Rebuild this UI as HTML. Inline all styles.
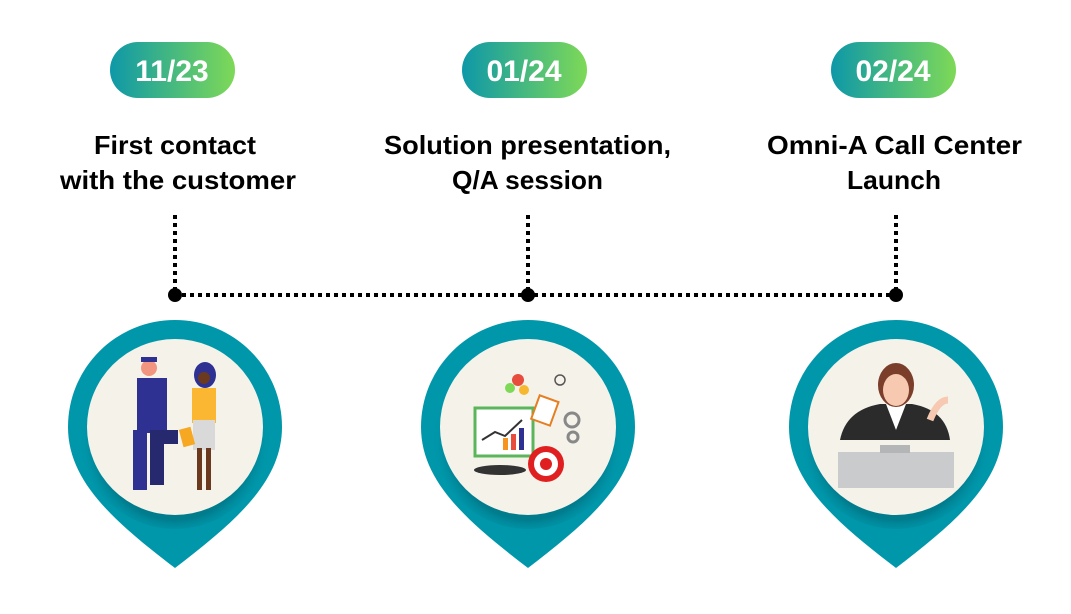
<!DOCTYPE html>
<html><head><meta charset="utf-8"><style>
html,body{margin:0;padding:0;background:#fff;}
body{width:1071px;height:609px;overflow:hidden;font-family:"Liberation Sans",sans-serif;}
</style></head><body>
<svg width="1071" height="609" viewBox="0 0 1071 609" xmlns="http://www.w3.org/2000/svg">
<defs>
<linearGradient id="g" x1="0" x2="1" y1="0" y2="0"><stop offset="0" stop-color="#0e98a8"/><stop offset="1" stop-color="#7ed957"/></linearGradient>
<radialGradient id="sh" cx="0.5" cy="0.55" r="0.5"><stop offset="0.8" stop-color="#00606e" stop-opacity="0.5"/><stop offset="1" stop-color="#0097ab" stop-opacity="0"/></radialGradient>
<g id="pin">
<path d="M-107,0 A107,107 0 1,1 107,0 C107,55 60,95 0,141 C-60,95 -107,55 -107,0 Z" fill="#0097ab"/>
<circle cx="0" cy="6" r="96" fill="url(#sh)"/>
<circle cx="0" cy="0" r="88" fill="#f5f2ea"/>
</g>
</defs>
<rect x="110" y="42" width="125" height="56" rx="28" fill="url(#g)"/>
<rect x="462" y="42" width="125" height="56" rx="28" fill="url(#g)"/>
<rect x="831" y="42" width="125" height="56" rx="28" fill="url(#g)"/>
<g font-weight="bold" fill="#fff" font-size="30" text-anchor="middle">
<text x="172" y="81">11/23</text><text x="524" y="81">01/24</text><text x="893" y="81">02/24</text>
</g>
<g font-weight="bold" fill="#000" font-size="26">
<text x="94" y="154" textLength="162" lengthAdjust="spacingAndGlyphs">First contact</text>
<text x="60" y="189" textLength="236" lengthAdjust="spacingAndGlyphs">with the customer</text>
<text x="384" y="154" textLength="287" lengthAdjust="spacingAndGlyphs">Solution presentation,</text>
<text x="452" y="189" textLength="151" lengthAdjust="spacingAndGlyphs">Q/A session</text>
<text x="767" y="154" textLength="255" lengthAdjust="spacingAndGlyphs">Omni-A Call Center</text>
<text x="847" y="189" textLength="94" lengthAdjust="spacingAndGlyphs">Launch</text>
</g>
<g stroke="#000" stroke-width="4" stroke-dasharray="4,4" fill="none">
<line x1="175" y1="215" x2="175" y2="290"/><line x1="528" y1="215" x2="528" y2="290"/><line x1="896" y1="215" x2="896" y2="290"/>
<line x1="182" y1="295" x2="890" y2="295"/>
</g>
<g fill="#000"><circle cx="175" cy="295" r="7"/><circle cx="528" cy="295" r="7"/><circle cx="896" cy="295" r="7"/></g>
<use href="#pin" x="175" y="427"/>
<use href="#pin" x="528" y="427"/>
<use href="#pin" x="896" y="427"/>
<g>
<rect x="137" y="378" width="30" height="55" fill="#2e3192"/>
<rect x="133" y="430" width="14" height="60" fill="#2e3192"/><rect x="150" y="430" width="14" height="55" fill="#27296e"/>
<circle cx="149" cy="368" r="8" fill="#f29580"/><path d="M141,362 h16 v-5 h-16z" fill="#2e3192"/>
<rect x="160" y="430" width="18" height="14" fill="#27296e"/>
<ellipse cx="205" cy="375" rx="11" ry="13" fill="#2e3192"/><circle cx="204" cy="378" r="6" fill="#6b3a1e"/>
<rect x="192" y="388" width="24" height="35" fill="#fbb731"/>
<rect x="193" y="420" width="22" height="30" fill="#d9d9d9"/>
<rect x="197" y="448" width="5" height="42" fill="#6b3a1e"/><rect x="206" y="448" width="5" height="42" fill="#6b3a1e"/>
<rect x="181" y="428" width="12" height="18" fill="#f7a823" transform="rotate(-15 187 437)"/>
</g>
<g>
<rect x="475" y="408" width="58" height="48" fill="#fff" stroke="#5bb55b" stroke-width="3"/>
<polyline points="482,440 495,432 505,436 522,420" stroke="#333" stroke-width="2" fill="none"/>
<rect x="503" y="438" width="5" height="12" fill="#f7931e"/><rect x="511" y="434" width="5" height="16" fill="#e74c3c"/><rect x="519" y="428" width="5" height="22" fill="#2e3192"/>
<ellipse cx="500" cy="470" rx="26" ry="5" fill="#333"/>
<circle cx="546" cy="464" r="18" fill="#e02020"/><circle cx="546" cy="464" r="12" fill="#fff"/><circle cx="546" cy="464" r="6" fill="#e02020"/>
<circle cx="518" cy="380" r="6" fill="#e74c3c"/><circle cx="510" cy="388" r="5" fill="#7ed957"/><circle cx="524" cy="390" r="5" fill="#f7b731"/>
<rect x="535" y="398" width="20" height="25" fill="#fff" stroke="#e67e22" stroke-width="2" transform="rotate(20 545 410)"/>
<circle cx="572" cy="420" r="7" fill="none" stroke="#888" stroke-width="3"/><circle cx="573" cy="437" r="5" fill="none" stroke="#888" stroke-width="3"/>
<circle cx="560" cy="380" r="5" fill="none" stroke="#555" stroke-width="1.5"/>
</g>
<g>
<path d="M840,440 Q846,410 880,404 L912,404 Q946,410 950,440 Z" fill="#2b2b2b"/>
<path d="M886,404 L896,430 L906,404 Z" fill="#fff"/>
<ellipse cx="896" cy="385" rx="18" ry="22" fill="#7a3e2a"/>
<ellipse cx="896" cy="390" rx="13" ry="16" fill="#f6c9b0"/>
<path d="M930,420 q8,-20 18,-20" stroke="#f6c9b0" stroke-width="7" fill="none"/>
<rect x="838" y="452" width="116" height="36" fill="#c9cbcd"/>
<rect x="880" y="445" width="30" height="8" fill="#b3b5b7"/>
</g>
</svg>
</body></html>
